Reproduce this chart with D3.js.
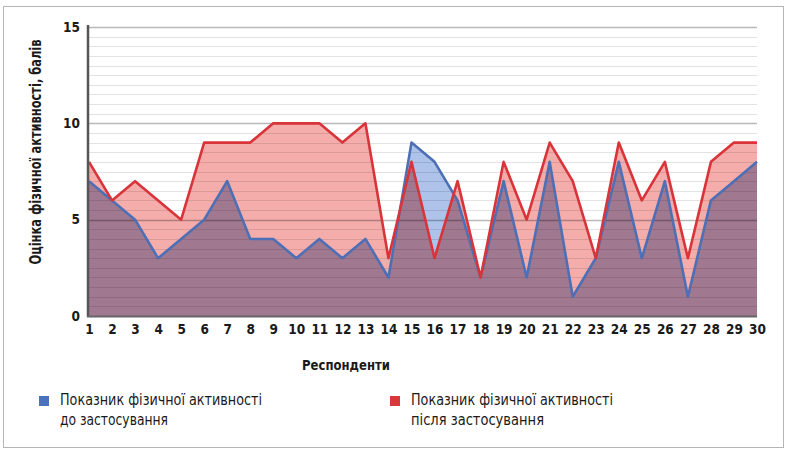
<!DOCTYPE html>
<html><head><meta charset="utf-8">
<script src="https://cdn.jsdelivr.net/npm/d3@7"></script>
<style>
body{margin:0;background:#fff;}
svg text{font-family:"Liberation Sans Narrow","DejaVu Sans Condensed","Arial Narrow",sans-serif;font-stretch:condensed;fill:#1a1a1a;}
</style></head>
<body>
<svg id="chart" width="792" height="455"></svg>
<script>
const respondents = d3.range(1, 31);
const beforeValues = [7,6,5,3,4,5,7,4,4,3,4,3,4,2,9,8,6,2,7,2,8,1,3,8,3,7,1,6,7,8];
const afterValues  = [8,6,7,6,5,9,9,9,10,10,10,9,10,3,8,3,7,2,8,5,9,7,3,9,6,8,3,8,9,9];
const yTicks = [0,5,10,15];
const legendLines = [["Показник фізичної активності","до застосування"],["Показник фізичної активності","після застосування"]];
const xTitle = "Респонденти";
const yTitle = "Оцінка фізичної активності, балів";

(function(){
const svg = d3.select("#chart");
const pL = 88, pR = 757, pT = 27, pB = 316;
const x = d3.scaleLinear().domain([1,30]).range([89, pR]);
const y = d3.scaleLinear().domain([0,15]).range([pB, pT]);

// frame
svg.append("rect").attr("x",3.5).attr("y",6.5).attr("width",780).attr("height",441)
  .attr("fill","#fff").attr("stroke","#b5b5b5").attr("stroke-width",1);

const before = respondents.map((r,i)=>({r, v: beforeValues[i]}));
const after = respondents.map((r,i)=>({r, v: afterValues[i]}));
const area = d3.area().x(d=>x(d.r)).y0(y(0)).y1(d=>y(d.v));
const line = d3.line().x(d=>x(d.r)).y(d=>y(d.v));

svg.append("clipPath").attr("id","afterClip").append("path").attr("d", area(after));

// fills
svg.append("path").attr("d", area(after)).attr("fill","#f5adab");
svg.append("path").attr("d", area(before)).attr("fill","#adc3ea");
svg.append("path").attr("d", area(before)).attr("fill","#a07990").attr("clip-path","url(#afterClip)");

// gridlines every 0.5
const grid = d3.range(0.5, 15.01, 0.5);
svg.append("g").selectAll("line").data(grid).join("line")
  .attr("x1", pL).attr("x2", pR)
  .attr("y1", d=>Math.round(y(d))+0.5).attr("y2", d=>Math.round(y(d))+0.5)
  .attr("stroke", d=> d%5===0 ? "rgba(0,0,0,0.28)" : "rgba(0,0,0,0.11)")
  .attr("stroke-width", d=> d%5===0 ? 1.5 : 1);

// series lines
svg.append("path").attr("d", line(before)).attr("fill","none").attr("stroke","#4d6fb5").attr("stroke-width",2.6).attr("stroke-linejoin","round");
svg.append("path").attr("d", line(after)).attr("fill","none").attr("stroke","#d8343a").attr("stroke-width",2.6).attr("stroke-linejoin","round");

// axes lines
svg.append("line").attr("x1",pL).attr("x2",pL).attr("y1",pT-2).attr("y2",pB+1).attr("stroke","#555").attr("stroke-width",2.5);
svg.append("line").attr("x1",pL-1).attr("x2",pR).attr("y1",pB+0.5).attr("y2",pB+0.5).attr("stroke","#666").attr("stroke-width",2);

// y axis labels
const yAxis = d3.axisLeft(y).tickValues(yTicks).tickSize(0).tickPadding(0);
const gy = svg.append("g").attr("transform",`translate(80,0)`).call(yAxis);
gy.select(".domain").remove();
gy.attr("font-family",null).attr("font-size",null);
gy.selectAll("text").attr("font-size",13.5).attr("font-weight","bold").attr("fill","#1a1a1a");

// x axis labels
const xAxis = d3.axisBottom(x).tickValues(respondents).tickFormat(d3.format("d")).tickSize(0).tickPadding(0);
const gx = svg.append("g").attr("transform",`translate(0,${pB+8})`).call(xAxis);
gx.select(".domain").remove();
gx.attr("font-family",null).attr("font-size",null);
gx.selectAll("text").attr("font-size",13.5).attr("font-weight","bold").attr("dy","0.71em").attr("fill","#1a1a1a");

// titles
svg.append("text").attr("x",346).attr("y",370).attr("text-anchor","middle")
  .attr("font-size",14).attr("font-weight","bold")
  .attr("textLength",88).attr("lengthAdjust","spacingAndGlyphs").text(xTitle);
svg.append("text").attr("transform","translate(41,152) rotate(-90)").attr("text-anchor","middle")
  .attr("font-size",15).attr("font-weight","bold")
  .attr("textLength",225).attr("lengthAdjust","spacingAndGlyphs").text(yTitle);

// legend
const legColors = ["#4a72bd","#d8383a"];
const legX = [39, 390];
const legLens = [[202,108],[202,133]];
legendLines.forEach((lines,i)=>{
  const g = svg.append("g").attr("transform",`translate(${legX[i]},0)`);
  g.append("rect").attr("x",0).attr("y",396).attr("width",10).attr("height",10).attr("fill",legColors[i]);
  lines.forEach((t,j)=>{
    g.append("text").attr("x",21).attr("y",405+j*20).attr("font-size",15)
      .attr("textLength",legLens[i][j]).attr("lengthAdjust","spacingAndGlyphs").text(t);
  });
});
})();
</script>
</body></html>
